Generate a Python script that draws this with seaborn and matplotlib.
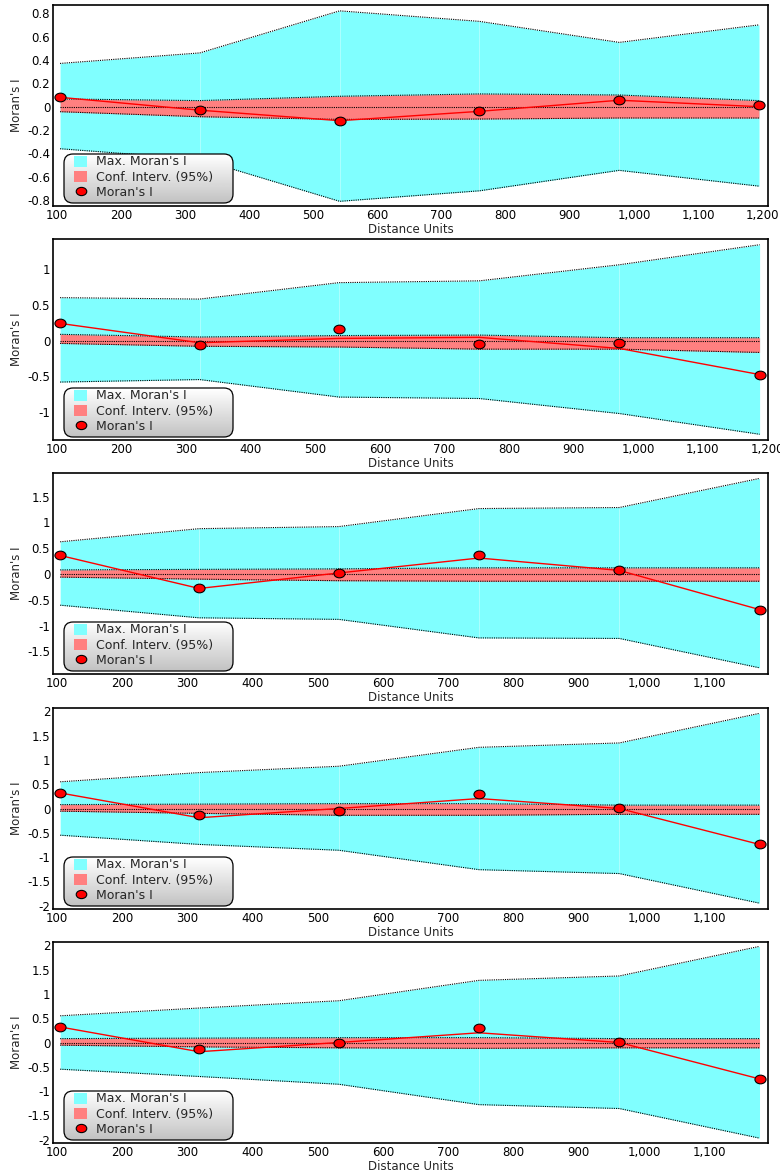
import numpy as np
import pandas as pd
import seaborn as sns
import matplotlib
matplotlib.use("Agg")
import matplotlib.pyplot as plt
from matplotlib.path import Path
from matplotlib.transforms import Affine2D, IdentityTransform
from matplotlib.patches import FancyBboxPatch, Patch
from matplotlib.lines import Line2D
from matplotlib.ticker import FuncFormatter, MultipleLocator

# ---------------------------------------------------------------- data
# panel 1
lags1 = [105, 323, 541, 759, 977, 1195]
max_hi1 = [0.37, 0.46, 0.82, 0.73, 0.55, 0.70]
max_lo1 = [-0.36, -0.45, -0.81, -0.72, -0.545, -0.68]
ci_hi1 = [0.066, 0.052, 0.089, 0.109, 0.100, 0.052]
ci_lo1 = [-0.043, -0.086, -0.109, -0.106, -0.097, -0.097]
moran1 = [0.080, -0.026, -0.126, -0.034, 0.058, 0.015]
trend1 = [0.080, -0.030, -0.120, -0.040, 0.055, 0.000]

# panel 2
lags2 = [105, 321, 537, 754, 971, 1188]
max_hi2 = [0.60, 0.58, 0.81, 0.835, 1.06, 1.34]
max_lo2 = [-0.58, -0.545, -0.79, -0.81, -1.02, -1.31]
ci_hi2 = [0.087, 0.050, 0.070, 0.077, 0.040, 0.040]
ci_lo2 = [-0.040, -0.080, -0.090, -0.120, -0.120, -0.166]
moran2 = [0.240, -0.063, 0.157, -0.050, -0.030, -0.475]
trend2 = [0.240, -0.030, 0.030, 0.045, -0.110, -0.475]

# panel 3
lags3 = [105, 318, 532, 747, 962, 1177]
max_hi3 = [0.625, 0.88, 0.92, 1.27, 1.29, 1.855]
max_lo3 = [-0.605, -0.85, -0.88, -1.24, -1.25, -1.82]
ci_hi3 = [0.08, 0.09, 0.10, 0.12, 0.12, 0.12]
ci_lo3 = [-0.06, -0.10, -0.13, -0.14, -0.14, -0.14]
moran3 = [0.36, -0.28, 0.02, 0.365, 0.07, -0.69]
trend3 = [0.36, -0.28, 0.02, 0.31, 0.07, -0.69]

# panel 4
lags4 = [105, 318, 532, 747, 962, 1177]
max_hi4 = [0.55, 0.74, 0.87, 1.26, 1.35, 1.96]
max_lo4 = [-0.55, -0.74, -0.86, -1.26, -1.34, -1.95]
ci_hi4 = [0.08, 0.09, 0.10, 0.10, 0.07, 0.07]
ci_lo4 = [-0.055, -0.10, -0.14, -0.14, -0.12, -0.12]
moran4 = [0.32, -0.14, -0.05, 0.295, 0.02, -0.74]
trend4 = [0.32, -0.19, 0.00, 0.205, 0.00, -0.74]

# panel 5
lags5 = [105, 318, 532, 747, 962, 1177]
max_hi5 = [0.55, 0.71, 0.86, 1.28, 1.37, 1.98]
max_lo5 = [-0.55, -0.70, -0.86, -1.28, -1.36, -1.97]
ci_hi5 = [0.08, 0.09, 0.10, 0.10, 0.08, 0.08]
ci_lo5 = [-0.055, -0.09, -0.11, -0.12, -0.11, -0.11]
moran5 = [0.32, -0.14, -0.02, 0.29, 0.02, -0.75]
trend5 = [0.32, -0.19, 0.00, 0.20, 0.00, -0.75]

legend_labels = ["Max. Moran's I", "Conf. Interv. (95%)", "Moran's I"]
x_label = "Distance Units"
y_label = "Moran's I"

panels = [
    dict(lags=lags1, hi=max_hi1, lo=max_lo1, ci_hi=ci_hi1, ci_lo=ci_lo1,
         pts=moran1, trend=trend1, xlim=(94, 1209), ylim=(-0.85, 0.87), ystep=0.2),
    dict(lags=lags2, hi=max_hi2, lo=max_lo2, ci_hi=ci_hi2, ci_lo=ci_lo2,
         pts=moran2, trend=trend2, xlim=(94, 1201), ylim=(-1.39, 1.42), ystep=0.5),
    dict(lags=lags3, hi=max_hi3, lo=max_lo3, ci_hi=ci_hi3, ci_lo=ci_lo3,
         pts=moran3, trend=trend3, xlim=(94, 1190), ylim=(-1.94, 1.96), ystep=0.5),
    dict(lags=lags4, hi=max_hi4, lo=max_lo4, ci_hi=ci_hi4, ci_lo=ci_lo4,
         pts=moran4, trend=trend4, xlim=(94, 1190), ylim=(-2.07, 2.07), ystep=0.5),
    dict(lags=lags5, hi=max_hi5, lo=max_lo5, ci_hi=ci_hi5, ci_lo=ci_lo5,
         pts=moran5, trend=trend5, xlim=(94, 1190), ylim=(-2.07, 2.07), ystep=0.5),
]

# ---------------------------------------------------------------- style
sns.set_style("white")
plt.rcParams["font.family"] = ["DejaVu Sans"]

CYAN = "#80FFFF"
SALMON = "#FF8080"
FS = 8.5
FS_LEG = 9.0

W, H = 780, 1171
fig = plt.figure(figsize=(W / 100, H / 100), dpi=100)

# oval marker, a little wider than tall
oval = Path.unit_circle().transformed(Affine2D().scale(1.0, 0.78))

tops = [5, 239, 473, 708, 942]
AX_L, AX_R, AX_H = 53, 768, 201


def fmt_y(v, _):
    v = round(v, 6)
    if abs(v) < 1e-9:
        return "0"
    return f"{v:g}"


def fmt_x(v, _):
    return f"{int(round(v)):,}"


for top, p in zip(tops, panels):
    ax = fig.add_axes([AX_L / W, 1 - (top + AX_H) / H, (AX_R - AX_L) / W, AX_H / H])
    lags = np.asarray(p["lags"], dtype=float)
    df = pd.DataFrame({"lag": lags, "moran": p["pts"], "trend": p["trend"]})

    # permutation envelope and confidence band
    ax.fill_between(lags, p["lo"], p["hi"], color=CYAN, lw=0, zorder=1)
    ax.vlines(lags[1:-1], np.asarray(p["lo"])[1:-1], np.asarray(p["hi"])[1:-1],
              colors="white", alpha=0.35, lw=0.7, zorder=1.5)
    ax.fill_between(lags, p["ci_lo"], p["ci_hi"], color=SALMON, lw=0, zorder=2)
    for edge in (p["hi"], p["lo"], p["ci_hi"], p["ci_lo"]):
        ax.plot(lags, edge, color="black", lw=0.8, ls=(0, (1, 1)), zorder=3)
    ax.plot([lags[0], lags[-1]], [0, 0], color="black", lw=0.8, ls=(0, (1, 1)), zorder=3)

    # observed Moran's I
    sns.lineplot(data=df, x="lag", y="trend", color="red", lw=1.0, ax=ax,
                 zorder=4, legend=False)
    sns.scatterplot(data=df, x="lag", y="moran", marker=oval, s=64, color="red",
                    edgecolor="black", linewidth=0.8, ax=ax, zorder=6,
                    legend=False, clip_on=False)

    ax.set_xlim(*p["xlim"])
    ax.set_ylim(*p["ylim"])
    ax.xaxis.set_major_locator(MultipleLocator(100))
    ax.yaxis.set_major_locator(MultipleLocator(p["ystep"]))
    ax.xaxis.set_major_formatter(FuncFormatter(fmt_x))
    ax.yaxis.set_major_formatter(FuncFormatter(fmt_y))
    ax.tick_params(length=0, labelsize=FS, pad=2, colors="black")
    ax.set_xlabel(x_label, fontsize=FS)
    ax.set_ylabel(y_label, fontsize=FS)
    ax.xaxis.set_label_coords(0.5, -0.085)
    ax.yaxis.set_label_coords(-0.042, 0.5)
    for sp in ax.spines.values():
        sp.set_color("black")
        sp.set_linewidth(1.2)
        sp.set_visible(True)

    # rounded legend box with a vertical grey gradient
    bx0, bx1 = 64, 233
    by_top, by_bot = top + AX_H - 52, top + AX_H - 3
    box = FancyBboxPatch((bx0, H - by_bot), bx1 - bx0, by_bot - by_top,
                         boxstyle="round,pad=0,rounding_size=9",
                         transform=IdentityTransform(), facecolor="none",
                         edgecolor="black", lw=0.9, zorder=7.5)
    base = FancyBboxPatch((bx0, H - by_bot), bx1 - bx0, by_bot - by_top,
                          boxstyle="round,pad=0,rounding_size=9",
                          transform=IdentityTransform(), facecolor="white",
                          edgecolor="none", zorder=7)
    ax.add_patch(base)
    grad = np.linspace(1.0, 0.76, 64)[:, None]
    ax0, ay0 = (bx0 - AX_L) / (AX_R - AX_L), 1 - (by_bot - top) / AX_H
    ax1_, ay1 = (bx1 - AX_L) / (AX_R - AX_L), 1 - (by_top - top) / AX_H
    im = ax.imshow(np.repeat(grad, 2, axis=1), cmap="gray", vmin=0, vmax=1,
                   extent=[ax0, ax1_, ay0, ay1], transform=ax.transAxes,
                   aspect="auto", zorder=7.2, interpolation="bilinear")
    im.set_clip_path(base)
    ax.add_patch(box)
    ax.set_xlim(*p["xlim"])
    ax.set_ylim(*p["ylim"])

    handles = [Patch(facecolor=CYAN, edgecolor="none"),
               Patch(facecolor=SALMON, edgecolor="none"),
               Line2D([], [], ls="none", marker=oval, markersize=7.6,
                      markerfacecolor="red", markeredgecolor="black",
                      markeredgewidth=0.8)]
    leg = ax.legend(handles, legend_labels, loc="lower left",
                    bbox_to_anchor=((74 - AX_L) / (AX_R - AX_L), 0.035),
                    frameon=False, fontsize=FS_LEG, borderpad=0, borderaxespad=0,
                    handlelength=1.05, handleheight=1.0, handletextpad=0.75,
                    labelspacing=0.18)
    leg.set_zorder(8)

fig.savefig("out.png", dpi=100)
